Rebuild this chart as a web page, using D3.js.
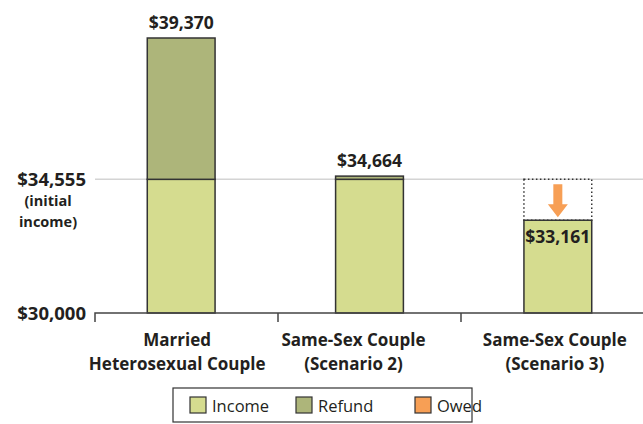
<!DOCTYPE html>
<html>
<head>
<meta charset="utf-8">
<script src="https://cdn.jsdelivr.net/npm/d3@7"></script>
<style>
  body { margin: 0; background: #fff; }
  text { font-family: "Open Sans", "DejaVu Sans", sans-serif; fill: #231f20; }
</style>
</head>
<body>
<div id="chart"></div>
<script>
// values
let categories = ["Married|Heterosexual Couple", "Same-Sex Couple|(Scenario 2)", "Same-Sex Couple|(Scenario 3)"];
let income = [34555, 34555, 33161];
let refund = [4815, 109, 0];
let owed = [0, 0, 1394];
let totals = ["$39,370", "$34,664", "$33,161"];
let yTicks = [30000, 34555];
let yTickLabels = ["$30,000", "$34,555"];
let legendNames = ["Income", "Refund", "Owed"];
let colors = ["#d5dc8f", "#adb57a", "#f79f55"];

function main() {
    let width = 643, height = 424;

    let svg = d3.select("#chart").append("svg")
        .attr("width", width)
        .attr("height", height);

    let yScale = d3.scaleLinear().domain([30000, 39370]).range([313, 38]);
    let xBars = d3.scaleBand().domain(categories).range([87, 652]).paddingInner(0.64).paddingOuter(0.32);
    let xAxisBand = d3.scaleBand().domain(categories).range([95, 644]);

    // gridline at initial income
    svg.append("line")
        .attr("x1", 95).attr("x2", 643)
        .attr("y1", yScale(34555)).attr("y2", yScale(34555))
        .attr("stroke", "#d4d4d4").attr("stroke-width", 1.5);

    // bars
    let g = svg.append("g");
    categories.forEach(function(c, i) {
        let x = xBars(c), w = xBars.bandwidth();
        g.append("rect")
            .attr("x", x).attr("width", w)
            .attr("y", yScale(income[i])).attr("height", yScale(30000) - yScale(income[i]))
            .attr("fill", colors[0]).attr("stroke", "#333").attr("stroke-width", 1.5);
        if (refund[i] > 0) {
            g.append("rect")
                .attr("x", x).attr("width", w)
                .attr("y", yScale(income[i] + refund[i]))
                .attr("height", yScale(income[i]) - yScale(income[i] + refund[i]))
                .attr("fill", colors[1]).attr("stroke", "#333").attr("stroke-width", 1.5);
        }
        if (owed[i] > 0) {
            let top = yScale(income[i] + owed[i]), bot = yScale(income[i]);
            g.append("rect")
                .attr("x", x).attr("width", w)
                .attr("y", top).attr("height", bot - top)
                .attr("fill", "none").attr("stroke", "#333")
                .attr("stroke-width", 1.5).attr("stroke-dasharray", "1.5,2.5");
            let cx = x + w / 2;
            let a = top + 5, b = bot - 3;
            let headY = b - 13;
            g.append("path")
                .attr("d", "M" + (cx - 4.5) + "," + a + "L" + (cx + 4.5) + "," + a +
                    "L" + (cx + 4.5) + "," + headY + "L" + (cx + 10) + "," + headY +
                    "L" + cx + "," + b + "L" + (cx - 10) + "," + headY +
                    "L" + (cx - 4.5) + "," + headY + "Z")
                .attr("fill", colors[2]);
        }
        let inside = owed[i] > 0;
        g.append("text")
            .attr("x", x + w / 2)
            .attr("y", inside ? yScale(income[i]) + 23 : yScale(income[i] + refund[i]) - 9)
            .attr("text-anchor", "middle")
            .attr("font-size", "17.5px").attr("font-weight", "bold")
            .text(totals[i]);
    });

    // x axis
    svg.append("path")
        .attr("d", "M" + 95 + "," + 322 + "V313H643")
        .attr("fill", "none").attr("stroke", "#444").attr("stroke-width", 1.5);
    categories.forEach(function(c) {
        let xt = xAxisBand(c) + xAxisBand.bandwidth();
        svg.append("line")
            .attr("x1", xt).attr("x2", xt).attr("y1", 313).attr("y2", 322)
            .attr("stroke", "#444").attr("stroke-width", 1.5);
    });
    let labelShift = [-4, -16, -3];
    categories.forEach(function(c, i) {
        let t = svg.append("text")
            .attr("text-anchor", "middle")
            .attr("font-size", "17px").attr("font-weight", "bold");
        c.split("|").forEach(function(line, k) {
            t.append("tspan")
                .attr("x", xBars(c) + xBars.bandwidth() / 2 + labelShift[i])
                .attr("y", 346 + k * 24)
                .text(line);
        });
    });

    // y labels
    yTicks.forEach(function(v, i) {
        svg.append("text")
            .attr("x", 86).attr("y", yScale(v) + 7)
            .attr("text-anchor", "end")
            .attr("font-size", "18.5px").attr("font-weight", "bold")
            .text(yTickLabels[i]);
    });
    svg.append("text")
        .attr("text-anchor", "middle")
        .attr("font-size", "14.5px").attr("font-weight", "bold")
        .selectAll("tspan")
        .data(["(initial", "income)"])
        .enter()
        .append("tspan")
        .attr("x", 48)
        .attr("y", function(d, i) { return yScale(34555) + 27 + i * 21; })
        .text(function(d) { return d; });

    // legend
    let lg = svg.append("g");
    lg.append("rect")
        .attr("x", 173).attr("y", 388).attr("width", 299).attr("height", 34)
        .attr("fill", "#fff").attr("stroke", "#333").attr("stroke-width", 1.2);
    let legX = [190, 296, 415];
    legendNames.forEach(function(n, i) {
        lg.append("rect")
            .attr("x", legX[i]).attr("y", 397).attr("width", 16).attr("height", 16)
            .attr("fill", colors[i]).attr("stroke", "#333").attr("stroke-width", 1.2);
        lg.append("text")
            .attr("x", legX[i] + 22).attr("y", 412)
            .attr("font-size", "16.5px")
            .text(n);
    });
}

main();
</script>
</body>
</html>
